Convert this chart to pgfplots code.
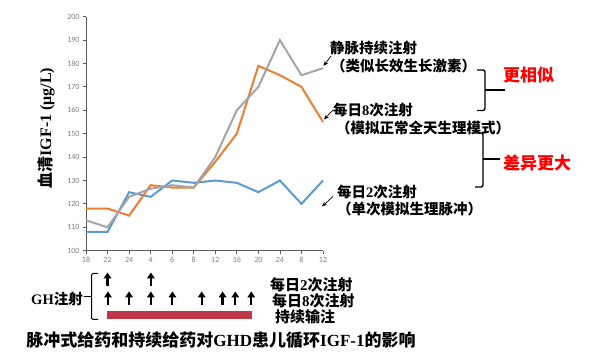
\documentclass[border=0pt]{standalone}
\usepackage{fontspec}
\setmainfont{Liberation Serif}
\newfontfamily\cjk{Noto Sans CJK SC}
\newfontfamily\tickfont{Carlito}
\usepackage{pgfplots}
\pgfplotsset{compat=1.18}
\usetikzlibrary{arrows.meta}
\definecolor{cblue}{RGB}{91,155,213}
\definecolor{corange}{RGB}{237,125,49}
\definecolor{cgray}{RGB}{165,165,165}
\definecolor{cbar}{RGB}{192,57,75}
\definecolor{ctick}{RGB}{128,128,128}
\newcommand{\C}[1]{{\cjk #1}}
\begin{document}
\begin{tikzpicture}
\path[use as bounding box] (0,0) rectangle (600pt,364pt);
\begin{axis}[
  at={(86pt,113.3pt)}, anchor=south west,
  scale only axis, width=237pt, height=234pt,
  xmin=0, xmax=11, ymin=100, ymax=200,
  axis x line*=bottom, axis y line*=left,
  axis line style={black!65, line width=0.8pt},
  tick style={black!65, line width=0.8pt},
  tick align=outside, major tick length=3pt,
  xtick={0,...,11},
  xticklabels={18,22,24,4,6,8,12,16,20,24,8,12},
  ytick={100,110,...,200},
  ticklabel style={font=\tickfont\fontsize{8}{9}\selectfont, text=ctick},
  /pgf/number format/assume math mode=true,
  clip=false,
]
\addplot[cblue, line width=2pt] coordinates {(0,108)(1,108)(2,125)(3,123)(4,130)(5,129)(6,130)(7,129)(8,125)(9,130)(10,120)(11,130)};
\addplot[corange, line width=2pt] coordinates {(0,118)(1,118)(2,115)(3,128)(4,127)(5,127)(6,138)(7,150)(8,179)(9,175)(10,170)(11,155)};
\addplot[cgray, line width=2pt] coordinates {(0,113)(1,110)(2,123)(3,126.5)(4,128)(5,127)(6,140)(7,160)(8,170)(9,190)(10,175)(11,178)};
% injection schedule
\pgfplotsinvokeforeach{1,3.01}{
  \draw[black, line width=2.2pt, -{Triangle[width=7.5pt,length=6pt]}] (axis cs:#1,85.1) -- (axis cs:#1,90.7);
}
\pgfplotsinvokeforeach{1.02,2,3.01,4.01,5.37,6.34,6.93,7.67}{
  \draw[black, line width=2.2pt, -{Triangle[width=7.5pt,length=6pt]}] (axis cs:#1,77.0) -- (axis cs:#1,82.6);
}
\fill[cbar] (axis cs:0.98,70.68) rectangle (axis cs:7.72,74.36);
\end{axis}
\begin{scope}[x=1pt, y=-1pt, shift={(0,364pt)}, font=\bfseries]
% y label
\node[rotate=90, font=\bfseries\fontsize{16}{18}\selectfont] at (46,128) {\C{血清}IGF-1 (μg/L)};
% annotations
\begin{scope}[font=\bfseries\fontsize{14.5}{16}\selectfont, inner sep=0pt]
\node[anchor=west] at (330,48) {\C{静脉持续注射}};
\node[anchor=west] at (331,66) {\C{（类似长效生长激素）}};
\node[anchor=west] at (333,110) {\C{每日}8\C{次注射}};
\node[anchor=west] at (336,128) {\C{（模拟正常全天生理模式）}};
\node[anchor=west] at (337,192) {\C{每日}2\C{次注射}};
\node[anchor=west] at (337,209) {\C{（单次模拟生理脉冲）}};
\end{scope}
\draw[black, line width=0.7pt, -{Stealth[width=4pt,length=5pt]}] (331,56) -- (323.5,66);
\draw[black, line width=0.7pt, -{Stealth[width=4pt,length=5pt]}] (333,110) -- (324,119.5);
\draw[black, line width=0.7pt, -{Stealth[width=4pt,length=5pt]}] (333,196.5) -- (322,206.5);
% right brackets
\draw[black, line width=1.4pt, rounded corners=2pt] (477,70) -- (485,70) -- (485,110.5) -- (477,110.5);
\draw[black, line width=1.4pt] (485,90) -- (505,90);
\draw[black, line width=1.4pt, rounded corners=2pt] (475,133) -- (483,133) -- (483,187) -- (475,187);
\draw[black, line width=1.4pt] (483,159) -- (500,159);
\node[anchor=west, inner sep=0pt, text=red, font=\bfseries\fontsize{17}{19}\selectfont] at (503,75) {\C{更相似}};
\node[anchor=west, inner sep=0pt, text=red, font=\bfseries\fontsize{17}{19}\selectfont] at (503,163) {\C{差异更大}};
% bottom
\draw[black, line width=1pt, rounded corners=2pt] (98,273.5) -- (91.5,273.5) -- (91.5,319.5) -- (98,319.5);
\draw[black, line width=1pt] (91.5,297) -- (84,297);
\node[anchor=east, inner sep=0pt, font=\bfseries\fontsize{14.5}{16}\selectfont] at (83,299) {GH\C{注射}};
\begin{scope}[font=\bfseries\fontsize{15}{17}\selectfont, inner sep=0pt]
\node[anchor=west] at (270,285) {\C{每日}2\C{次注射}};
\node[anchor=west] at (272,300.5) {\C{每日}8\C{次注射}};
\node[anchor=west] at (275,316.5) {\C{持续输注}};
\end{scope}
\node[font=\bfseries\fontsize{17}{19}\selectfont] at (221,340) {\C{脉冲式给药和持续给药对}GHD\C{患儿循环}IGF-1\C{的影响}};
\end{scope}
\end{tikzpicture}
\end{document}
